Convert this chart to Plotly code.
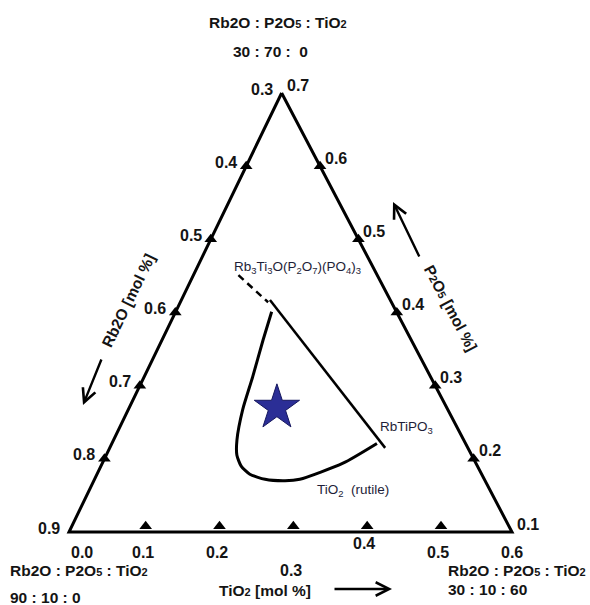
import plotly.graph_objects as go

# ---------------- data (mole fractions) ----------------
# corner compositions of the partial Rb2O-P2O5-TiO2 triangle (mol %)
corner_labels = ["30 : 70 :  0", "90 : 10 : 0", "30 : 10 : 60"]
corner_rb2o = [0.3, 0.9, 0.3, 0.3]
corner_p2o5 = [0.7, 0.1, 0.1, 0.7]
corner_tio2 = [0.0, 0.0, 0.6, 0.0]

# tick values along each edge
rb2o_ticks = [0.3, 0.4, 0.5, 0.6, 0.7, 0.8, 0.9]   # left edge (TiO2 = 0)
p2o5_ticks = [0.7, 0.6, 0.5, 0.4, 0.3, 0.2, 0.1]   # right edge (Rb2O = 0.3)
tio2_ticks = [0.0, 0.1, 0.2, 0.3, 0.4, 0.5, 0.6]   # bottom edge (P2O5 = 0.1)
rb2o_marks = [0.4, 0.5, 0.6, 0.7, 0.8]
p2o5_marks = [0.6, 0.5, 0.4, 0.3, 0.2]
tio2_marks = [0.1, 0.2, 0.3, 0.4, 0.5]

# boundary of the glass/crystallisation region
region_rb2o = [0.469, 0.501, 0.541, 0.578, 0.607, 0.618, 0.620, 0.614, 0.597, 0.571, 0.550, 0.480, 0.420]
region_p2o5 = [0.401, 0.362, 0.312, 0.267, 0.226, 0.205, 0.190, 0.179, 0.172, 0.170, 0.172, 0.194, 0.221]
region_tio2 = [0.130, 0.137, 0.147, 0.155, 0.167, 0.177, 0.190, 0.207, 0.231, 0.259, 0.278, 0.326, 0.359]

# tie line RbTiPO3 - Rb3Ti3O(P2O7)(PO4)3
tie_rb2o = [0.463, 0.412]
tie_p2o5 = [0.417, 0.215]
tie_tio2 = [0.120, 0.373]
tie_ext_rb2o = [0.488, 0.467]
tie_ext_p2o5 = [0.451, 0.414]
tie_ext_tio2 = [0.061, 0.119]

# studied composition (star)
star_rb2o = [0.53]
star_p2o5 = [0.27]
star_tio2 = [0.20]

# ---------------- layout helpers ----------------
W, H = 590, 605
P_MIN, SPAN, APEX_SKEW = 0.1, 0.6, 0.48
TICK_LIFT = 0.008


def to_xy(rb, p, t):
    xs, ys = [], []
    for r_, p_, t_ in zip(rb, p, t):
        y = (p_ - P_MIN) / SPAN
        xs.append(t_ / SPAN + APEX_SKEW * y)
        ys.append(y)
    return xs, ys


def paper(px, py):
    return px / W, 1 - py / H


FONT = "Arial, Liberation Sans, sans-serif"
INK = "#141414"
SMALL = "<span style='font-size:11px'>{}</span>"

fig = go.Figure()

# frame
fx, fy = to_xy(corner_rb2o, corner_p2o5, corner_tio2)
fig.add_trace(go.Scatter(x=fx, y=fy, mode="lines",
                         line=dict(color="black", width=3), hoverinfo="skip"))

# tick marks
lx, ly = to_xy(rb2o_marks, [1 - v for v in rb2o_marks], [0] * len(rb2o_marks))
rx, ry = to_xy([0.3] * len(p2o5_marks), p2o5_marks, [0.7 - v for v in p2o5_marks])
bx, by = to_xy([0.9 - v for v in tio2_marks], [P_MIN + TICK_LIFT] * len(tio2_marks), tio2_marks)
fig.add_trace(go.Scatter(x=lx + rx + bx, y=ly + ry + by, mode="markers",
                         marker=dict(symbol="triangle-up", size=11, color="black"),
                         hoverinfo="skip"))

# region boundary
gx, gy = to_xy(region_rb2o, region_p2o5, region_tio2)
fig.add_trace(go.Scatter(x=gx, y=gy, mode="lines",
                         line=dict(color="black", width=3, shape="spline", smoothing=0.6),
                         hoverinfo="skip"))

# tie line
tx, ty = to_xy(tie_rb2o, tie_p2o5, tie_tio2)
fig.add_trace(go.Scatter(x=tx, y=ty, mode="lines",
                         line=dict(color="black", width=2.5), hoverinfo="skip"))
ex, ey = to_xy(tie_ext_rb2o, tie_ext_p2o5, tie_ext_tio2)
fig.add_trace(go.Scatter(x=ex, y=ey, mode="lines",
                         line=dict(color="black", width=2.5, dash="7px,5px"), hoverinfo="skip"))

# star
sx, sy = to_xy(star_rb2o, star_p2o5, star_tio2)
fig.add_trace(go.Scatter(x=sx, y=sy, mode="markers",
                         marker=dict(symbol="star", size=34, color="#2b2e96",
                                     line=dict(color="#15175e", width=1)),
                         hoverinfo="skip"))

ann = []
TICK_FONT = dict(family=FONT, size=16, color=INK)

# edge tick labels
ex_l, ey_l = to_xy(rb2o_ticks, [1 - v for v in rb2o_ticks], [0] * len(rb2o_ticks))
for v, x, y in zip(rb2o_ticks, ex_l, ey_l):
    ann.append(dict(x=x, y=y, xref="x", yref="y", text=f"<b>{v:.1f}</b>", showarrow=False,
                    xanchor="right", yanchor="middle", xshift=-7, yshift=4, font=TICK_FONT))
ex_r, ey_r = to_xy([0.3] * len(p2o5_ticks), p2o5_ticks, [0.7 - v for v in p2o5_ticks])
for v, x, y in zip(p2o5_ticks, ex_r, ey_r):
    ann.append(dict(x=x, y=y, xref="x", yref="y", text=f"<b>{v:.1f}</b>", showarrow=False,
                    xanchor="left", yanchor="middle", xshift=3, yshift=8, font=TICK_FONT))
ex_b, ey_b = to_xy([0.9 - v for v in tio2_ticks], [P_MIN] * len(tio2_ticks), tio2_ticks)
bottom_dx = [13, 0, 0, 0, 0, 0, 0]
bottom_dy = [-20, -20, -20, -38, -11, -20, -20]
for v, x, y, dx, dy in zip(tio2_ticks, ex_b, ey_b, bottom_dx, bottom_dy):
    ann.append(dict(x=x, y=y, xref="x", yref="y", text=f"<b>{v:.1f}</b>", showarrow=False,
                    xanchor="center", yanchor="middle", xshift=dx, yshift=dy, font=TICK_FONT))

# corner composition captions
ratio_title = "<b>Rb2O : P2O" + SMALL.format("5") + " : TiO" + SMALL.format("2") + "</b>"
for (tx_, ty_), (vx, vy), anchor, lab in [
    ((278, 23), (270, 52), "center", corner_labels[0]),
    ((8, 570), (8, 597), "left", corner_labels[1]),
    ((446, 570), (446, 589), "left", corner_labels[2]),
]:
    px_, py_ = paper(tx_, ty_)
    ann.append(dict(x=px_, y=py_, xref="paper", yref="paper", text=ratio_title, showarrow=False,
                    xanchor=anchor, yanchor="middle", font=dict(family=FONT, size=15.5, color=INK)))
    px_, py_ = paper(vx, vy)
    ann.append(dict(x=px_, y=py_, xref="paper", yref="paper", text=f"<b>{lab}</b>", showarrow=False,
                    xanchor=anchor, yanchor="middle", font=dict(family=FONT, size=15.5, color=INK)))

# axis titles
for (cx, cy), txt, ang in [
    ((128, 300), "<b>Rb2O [mol %]</b>", -64),
    ((450, 308), "<b>P" + SMALL.format("2") + "O" + SMALL.format("5") + " [mol %]</b>", 62),
]:
    px_, py_ = paper(cx, cy)
    ann.append(dict(x=px_, y=py_, xref="paper", yref="paper", text=txt, showarrow=False,
                    textangle=ang, xanchor="center", yanchor="middle",
                    font=dict(family=FONT, size=15.5, color=INK)))
px_, py_ = paper(217, 590)
ann.append(dict(x=px_, y=py_, xref="paper", yref="paper",
                text="<b>TiO" + SMALL.format("2") + " [mol %]</b>", showarrow=False,
                xanchor="left", yanchor="middle", font=dict(family=FONT, size=15.5, color=INK)))

# direction arrows
for (hx, hy), (axp, ayp) in [((83, 405), (19, -47)), ((393, 202), (27, 56)), ((392, 589), (-59, 0))]:
    px_, py_ = paper(hx, hy)
    ann.append(dict(x=px_, y=py_, xref="paper", yref="paper", text="", showarrow=True,
                    ax=axp, ay=ayp, arrowhead=5, arrowsize=1.1, arrowwidth=2.4, arrowcolor="black"))

# phase labels
for (cx, cy), txt, anchor, size in [
    ((232, 267), "Rb<sub>3</sub>Ti<sub>3</sub>O(P<sub>2</sub>O<sub>7</sub>)(PO<sub>4</sub>)<sub>3</sub>", "left", 13.5),
    ((378, 427), "RbTiPO<sub>3</sub>", "left", 13.5),
    ((315, 490), "TiO<sub>2</sub>  (rutile)", "left", 13.5),
]:
    px_, py_ = paper(cx, cy)
    ann.append(dict(x=px_, y=py_, xref="paper", yref="paper", text=txt, showarrow=False,
                    xanchor=anchor, yanchor="middle", font=dict(family=FONT, size=size, color="#1e1e38")))

fig.update_layout(
    width=W, height=H, margin=dict(l=0, r=0, t=0, b=0),
    paper_bgcolor="white", plot_bgcolor="white", showlegend=False,
    xaxis=dict(visible=False, range=[-69 / 443, 521 / 443], fixedrange=True),
    yaxis=dict(visible=False, range=[(532 - 605) / 439, 532 / 439], fixedrange=True),
    annotations=ann,
)

fig.write_html("out.html", config={"displayModeBar": False},
               post_script="document.body.style.margin='0px';")
